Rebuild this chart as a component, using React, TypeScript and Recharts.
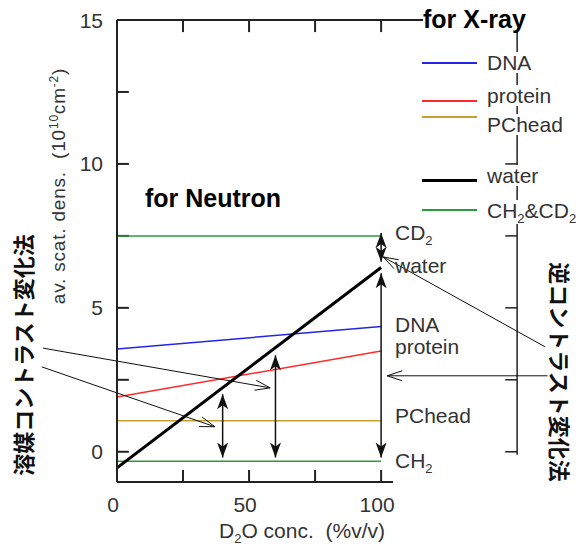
import { LineChart, Line, XAxis, YAxis, ReferenceLine } from 'recharts'

// D2O concentration (%v/v) and scattering length densities (10^10 cm^-2)
const conc = [0, 100]
const dna = [3.57, 4.35]
const protein = [1.9, 3.5]
const pchead = [1.08, 1.08]
const water = [-0.56, 6.4]
const cd2 = [7.5, 7.5]
const ch2 = [-0.33, -0.33]

const xTicks = [0, 25, 50, 75, 100]
const xLabels = [0, 50, 100]
const yTicks = [0, 2.5, 5, 7.5, 10, 12.5, 15]
const yLabels = [0, 5, 10, 15]
const xDomain = [0, 104.5]
const yDomain = [-1.05, 15]

// contrast-match arrows (x, from, to) in data units
const doubleArrows = [
  { x: 40, from: -0.2, to: 2.0 },
  { x: 60, from: -0.2, to: 3.35 },
  { x: 100, from: -0.2, to: 6.2 },
  { x: 100, from: 6.6, to: 7.6 },
]

// pointer lines from the side captions
const pointers = [
  { x1: -28, y1: 3.6, x2: 58, y2: 2.22 },
  { x1: -28.5, y1: 2.95, x2: 37, y2: 0.87 },
  { x1: 162, y1: 3.65, x2: 100.8, y2: 6.77 },
  { x1: 163, y1: 2.64, x2: 102.3, y2: 2.64 },
]

// bracket on the right
const bracketX = 151.5
const bracketTicks = [0, 2.5, 5, 7.5, 10]
const topLineEnd = 116

// inward tick lengths in data units (about 12px)
const xTickLen = 0.42
const yTickLen = 4.5

const rows = conc.map((c, i) => ({
  conc: c,
  dna: dna[i],
  protein: protein[i],
  pchead: pchead[i],
  water: water[i],
  cd2: cd2[i],
  ch2: ch2[i],
}))

const FONT = '"Liberation Sans", Arial, sans-serif'
const JP = '"Noto Sans CJK JP", sans-serif'
const INK = '#222'

function unit(ax: number, ay: number, bx: number, by: number) {
  const dx = bx - ax
  const dy = by - ay
  const l = Math.hypot(dx, dy) || 1
  return [dx / l, dy / l]
}

function filledHead(tx: number, ty: number, ux: number, uy: number) {
  const L = 15
  const w = 5.5
  const n = 4
  const bx = tx - ux * L
  const by = ty - uy * L
  const px = -uy
  const py = ux
  const pts = [
    [tx, ty],
    [bx + px * w, by + py * w],
    [tx - ux * (L - n), ty - uy * (L - n)],
    [bx - px * w, by - py * w],
  ]
  return <polygon points={pts.map((p) => p.join(',')).join(' ')} fill="#111" />
}

function DoubleArrow(props: any) {
  const { x1, y1, x2, y2 } = props
  const [ux, uy] = unit(x2, y2, x1, y1)
  return (
    <g>
      <line x1={x1} y1={y1} x2={x2} y2={y2} stroke="#111" strokeWidth={1.5} />
      {filledHead(x1, y1, ux, uy)}
      {filledHead(x2, y2, -ux, -uy)}
    </g>
  )
}

function Pointer(props: any) {
  const { x1, y1, x2, y2 } = props
  const [ux, uy] = unit(x1, y1, x2, y2)
  const L = 15
  const w = 5
  const bx = x2 - ux * L
  const by = y2 - uy * L
  return (
    <g stroke="#111" strokeWidth={1} fill="none">
      <line x1={x1} y1={y1} x2={x2} y2={y2} />
      <polyline
        points={`${bx - uy * w},${by + ux * w} ${x2},${y2} ${bx + uy * w},${by - ux * w}`}
      />
    </g>
  )
}

function BottomLabel({ x, y, payload }: any) {
  const v = payload.value
  if (!xLabels.includes(v)) return null
  return (
    <text x={x - 4} y={y + 30} textAnchor="middle" fontSize={21} fill="#333" fontFamily={FONT}>
      {v}
    </text>
  )
}

function LeftLabel({ x, y, payload }: any) {
  const v = payload.value
  if (!yLabels.includes(v)) return null
  return (
    <text x={x - 14} y={y} dy="0.36em" textAnchor="end" fontSize={21} fill="#333" fontFamily={FONT}>
      {v}
    </text>
  )
}

const legendItems = [
  { label: 'DNA', color: '#2424e8', width: 1.5, lineY: 63, top: 52 },
  { label: 'protein', color: '#ff2a2a', width: 1.5, lineY: 101, top: 85 },
  { label: 'PChead', color: '#c9a02e', width: 1.5, lineY: 117, top: 114 },
  { label: 'water', color: '#000', width: 3, lineY: 180, top: 165 },
  { label: 'CH2&CD2', color: '#2a9a3c', width: 1.5, lineY: 210, top: 200 },
]

const sideLabels = [
  { label: 'CD2', top: 222 },
  { label: 'water', top: 255 },
  { label: 'DNA', top: 314 },
  { label: 'protein', top: 336 },
  { label: 'PChead', top: 405 },
  { label: 'CH2', top: 450 },
]

function withSub(s: string) {
  const parts = s.split('2')
  return parts.map((p, i) => (
    <span key={i}>
      {p}
      {i < parts.length - 1 && (
        <span style={{ fontSize: 13, position: 'relative', top: 5 }}>2</span>
      )}
    </span>
  ))
}

function Overlay() {
  const base: React.CSSProperties = {
    position: 'absolute',
    fontFamily: FONT,
    fontSize: 21,
    lineHeight: '21px',
    color: '#333',
    whiteSpace: 'nowrap',
  }
  return (
    <div style={{ position: 'absolute', left: 0, top: 0, width: 582, height: 546, pointerEvents: 'none' }}>
      <div style={{ ...base, left: 423, top: 7, fontSize: 25, lineHeight: '25px', fontWeight: 700, color: '#000', background: '#fff' }}>
        for X-ray
      </div>
      <div style={{ ...base, left: 145, top: 186, fontSize: 25, lineHeight: '25px', fontWeight: 700, color: '#000' }}>
        for Neutron
      </div>
      {legendItems.map((it) => (
        <div key={it.label}>
          <div
            style={{
              position: 'absolute',
              left: 422,
              top: it.lineY - it.width / 2,
              width: 55,
              height: it.width,
              background: it.color,
            }}
          />
          <div style={{ ...base, left: 487, top: it.top, background: '#fff', paddingRight: 2 }}>
            {withSub(it.label)}
          </div>
        </div>
      ))}
      {sideLabels.map((it) => (
        <div key={it.label} style={{ ...base, left: 395, top: it.top }}>
          {withSub(it.label)}
        </div>
      ))}
      <div style={{ ...base, left: 302, top: 520, transform: 'translateX(-50%)' }}>
        D<span style={{ fontSize: 13, position: 'relative', top: 5 }}>2</span>O conc.&nbsp;&nbsp;(%v/v)
      </div>
      <div
        style={{
          ...base,
          left: 60,
          top: 186,
          fontSize: 19,
          lineHeight: '19px',
          letterSpacing: 0.8,
          transform: 'translate(-50%, -50%) rotate(-90deg)',
        }}
      >
        av. scat. dens.&nbsp;&nbsp;(10<span style={{ fontSize: 12, position: 'relative', top: -7 }}>10</span>cm
        <span style={{ fontSize: 12, position: 'relative', top: -7 }}>-2</span>)
      </div>
      <div
        style={{
          ...base,
          left: 22,
          top: 355,
          fontFamily: JP,
          fontSize: 22,
          lineHeight: '22px',
          fontWeight: 700,
          color: '#111',
          transform: 'translate(-50%, -50%) rotate(-90deg)',
        }}
      >
        溶媒コントラスト変化法
      </div>
      <div
        style={{
          ...base,
          left: 561,
          top: 372,
          fontFamily: JP,
          fontSize: 22,
          lineHeight: '22px',
          fontWeight: 700,
          color: '#111',
          transform: 'translate(-50%, -50%) rotate(90deg)',
        }}
      >
        逆コントラスト変化法
      </div>
    </div>
  )
}

export default function App() {
  const [yMin, yMax] = yDomain
  return (
    <div style={{ position: 'absolute', left: 0, top: 0, width: 582, height: 546, background: '#fff' }}>
      <LineChart width={582} height={546} data={rows} margin={{ top: 20, right: 189, bottom: 34, left: 77 }}>
        <XAxis
          dataKey="conc"
          type="number"
          domain={xDomain}
          ticks={xTicks}
          allowDataOverflow
          height={30}
          tickSize={0}
          tickMargin={0}
          tickLine={false}
          axisLine={{ stroke: INK, strokeWidth: 2 }}
          tick={<BottomLabel />}
        />
        <YAxis
          type="number"
          domain={yDomain}
          ticks={yTicks}
          allowDataOverflow
          width={40}
          tickSize={0}
          tickMargin={0}
          tickLine={false}
          axisLine={{ stroke: INK, strokeWidth: 2 }}
          tick={<LeftLabel />}
        />
        {/* inward ticks: bottom, top and left */}
        {xTicks.map((t) => (
          <ReferenceLine
            key={'bt' + t}
            segment={[{ x: t, y: yMin }, { x: t, y: yMin + xTickLen }]}
            ifOverflow="visible"
            stroke={INK}
            strokeWidth={2}
          />
        ))}
        {xTicks.map((t) => (
          <ReferenceLine
            key={'tt' + t}
            segment={[{ x: t, y: yMax }, { x: t, y: yMax - xTickLen }]}
            ifOverflow="visible"
            stroke={INK}
            strokeWidth={2}
          />
        ))}
        {yTicks.map((t) => (
          <ReferenceLine
            key={'lt' + t}
            segment={[{ x: 0, y: t }, { x: yTickLen, y: t }]}
            ifOverflow="visible"
            stroke={INK}
            strokeWidth={2}
          />
        ))}
        <ReferenceLine
          segment={[{ x: 0, y: yMax }, { x: topLineEnd, y: yMax }]}
          ifOverflow="visible"
          stroke={INK}
          strokeWidth={2}
        />
        <ReferenceLine
          segment={[{ x: bracketX, y: 14.6 }, { x: bracketX, y: -0.1 }]}
          ifOverflow="visible"
          stroke={INK}
          strokeWidth={1.5}
        />
        {bracketTicks.map((t) => (
          <ReferenceLine
            key={'br' + t}
            segment={[{ x: bracketX - 4.5, y: t }, { x: bracketX, y: t }]}
            ifOverflow="visible"
            stroke={INK}
            strokeWidth={1.5}
          />
        ))}
        <Line dataKey="cd2" stroke="#2a9a3c" strokeWidth={1.5} dot={false} isAnimationActive={false} />
        <Line dataKey="ch2" stroke="#2a9a3c" strokeWidth={1.5} dot={false} isAnimationActive={false} />
        <Line dataKey="dna" stroke="#2424e8" strokeWidth={1.5} dot={false} isAnimationActive={false} />
        <Line dataKey="protein" stroke="#ff2a2a" strokeWidth={1.5} dot={false} isAnimationActive={false} />
        <Line dataKey="pchead" stroke="#c9a02e" strokeWidth={1.5} dot={false} isAnimationActive={false} />
        <Line dataKey="water" stroke="#000" strokeWidth={3} dot={false} isAnimationActive={false} />
        {doubleArrows.map((a, i) => (
          <ReferenceLine
            key={'a' + i}
            segment={[{ x: a.x, y: a.from }, { x: a.x, y: a.to }]}
            ifOverflow="visible"
            shape={(p: any) => <DoubleArrow {...p} />}
          />
        ))}
        {pointers.map((a, i) => (
          <ReferenceLine
            key={'p' + i}
            segment={[{ x: a.x1, y: a.y1 }, { x: a.x2, y: a.y2 }]}
            ifOverflow="visible"
            shape={(p: any) => <Pointer {...p} />}
          />
        ))}
      </LineChart>
      <Overlay />
    </div>
  )
}
